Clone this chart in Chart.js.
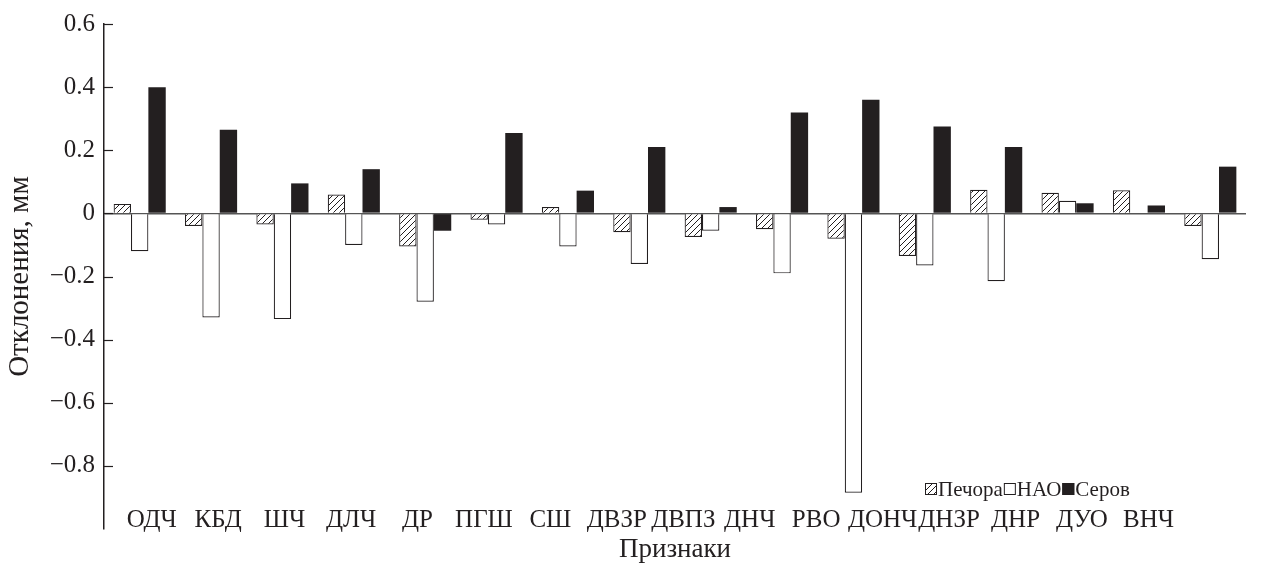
<!DOCTYPE html>
<html><head><meta charset="utf-8">
<script src="https://cdn.jsdelivr.net/npm/chart.js@4.4.1/dist/chart.umd.min.js"></script>
<style>html,body{margin:0;padding:0;background:#fff;}</style>
</head><body>
<canvas id="c" width="1262" height="563"></canvas>
<script>
const categories = ['ОДЧ','КБД','ШЧ','ДЛЧ','ДР','ПГШ','СШ','ДВЗР','ДВПЗ','ДНЧ','РВО','ДОНЧ','ДНЗР','ДНР','ДУО','ВНЧ'];
const seriesLabels = ['Печора','НАО','Серов'];
const pechora = [0.03,-0.04,-0.035,0.06,-0.105,-0.02,0.02,-0.06,-0.075,-0.05,-0.08,-0.135,0.075,0.065,0.073,-0.04];
const nao     = [-0.12,-0.33,-0.335,-0.10,-0.28,-0.035,-0.105,-0.16,-0.055,-0.19,-0.885,-0.165,-0.215,0.04,0,-0.145];
const serov   = [0.40,0.265,0.095,0.14,-0.055,0.255,0.072,0.21,0.02,0.32,0.36,0.275,0.21,0.032,0.025,0.148];
const yMin = -1.0, yMax = 0.6, yStep = 0.2;
const xTitle = 'Признаки';
const yTitle = 'Отклонения, мм';

const INK = '#231f20';
const FONT = '"Liberation Serif", "Times New Roman", serif';

function makeHatch(){
  const s = 6;
  const c = document.createElement('canvas'); c.width = s; c.height = s;
  const g = c.getContext('2d');
  g.fillStyle = '#fff'; g.fillRect(0,0,s,s);
  g.strokeStyle = INK; g.lineWidth = 1;
  g.beginPath();
  g.moveTo(0,s); g.lineTo(s,0);
  g.moveTo(-1,1); g.lineTo(1,-1);
  g.moveTo(s-1,s+1); g.lineTo(s+1,s-1);
  g.stroke();
  return g.createPattern(c,'repeat');
}
const hatch = makeHatch();
const fills = [hatch, '#ffffff', INK];

function fmt(v){
  if (Math.abs(v - yMin) < 1e-9) return '';
  if (Math.abs(v) < 1e-9) return '0';
  return (v < 0 ? '\u2212' : '') + Math.abs(v).toFixed(1);
}

const overlay = {
  id: 'overlay',
  afterDatasetsDraw(chart){
    const {ctx, chartArea} = chart;
    const xs = chart.scales.x, ys = chart.scales.y;
    ctx.save();
    ctx.strokeStyle = INK; ctx.lineWidth = 1.2;
    ys.ticks.forEach(t => {
      if (Math.abs(t.value - yMin) < 1e-9) return;
      const y = Math.round(ys.getPixelForValue(t.value)) + 0.5;
      ctx.beginPath(); ctx.moveTo(chartArea.left, y); ctx.lineTo(chartArea.left + 9, y); ctx.stroke();
    });
    // category labels: the typeset label row is slightly tighter than the bar groups
    ctx.fillStyle = INK;
    ctx.font = '25px ' + FONT;
    ctx.textAlign = 'center'; ctx.textBaseline = 'alphabetic';
    const p0 = xs.getPixelForValue(0);
    categories.forEach((c,i) => {
      const x = p0 + 12 + (xs.getPixelForValue(i) - p0) * 0.931;
      ctx.fillText(c, x, chartArea.bottom - 2);
    });
    // legend
    ctx.font = '21px ' + FONT;
    ctx.textAlign = 'left'; ctx.textBaseline = 'middle';
    let x = 925; const yc = 489; const box = 12;
    chart.data.datasets.forEach((ds, i) => {
      ctx.fillStyle = fills[i];
      ctx.fillRect(x, yc - box/2, box, box);
      ctx.strokeStyle = INK; ctx.lineWidth = 1;
      ctx.strokeRect(x + 0.5, yc - box/2 + 0.5, box - 1, box - 1);
      x += box + 1;
      ctx.fillStyle = INK;
      ctx.fillText(ds.label, x, yc + 1);
      x += ctx.measureText(ds.label).width + 1;
    });
    ctx.restore();
  }
};

new Chart(document.getElementById('c'), {
  type: 'bar',
  data: {
    labels: categories,
    datasets: [
      {label: seriesLabels[0], data: pechora, backgroundColor: hatch, borderColor: INK, borderWidth: 1.2},
      {label: seriesLabels[1], data: nao, backgroundColor: '#ffffff', borderColor: INK, borderWidth: 1.2},
      {label: seriesLabels[2], data: serov, backgroundColor: INK, borderColor: INK, borderWidth: 0}
    ]
  },
  options: {
    responsive: false,
    devicePixelRatio: 1,
    animation: false,
    layout: {padding: {top: 24, right: 16, left: 0, bottom: 0}},
    plugins: {legend: {display: false}, tooltip: {enabled: false}},
    datasets: {bar: {categoryPercentage: 0.73, barPercentage: 1.0}},
    scales: {
      x: {
        grid: {display: false},
        border: {display: false},
        ticks: {display: false},
        title: {display: true, text: xTitle, color: INK, font: {family: FONT, size: 27, lineHeight: 1}, padding: {top: 4, bottom: 0}},
        afterFit(s){ s.height = 34; }
      },
      y: {
        min: yMin, max: yMax,
        ticks: {stepSize: yStep, color: INK, font: {family: FONT, size: 25}, padding: 9, callback: (v) => fmt(v)},
        grid: {drawTicks: false, color: (c) => (c.tick && Math.abs(c.tick.value) < 1e-9) ? '#555' : 'rgba(0,0,0,0)', lineWidth: 1.5},
        border: {display: true, color: INK, width: 1.5},
        title: {display: true, text: yTitle, color: INK, font: {family: FONT, size: 29, lineHeight: 1}, padding: {top: 6, bottom: 0}},
        afterFit(s){ s.width = 104; }
      }
    }
  },
  plugins: [overlay]
});
</script>
</body></html>
